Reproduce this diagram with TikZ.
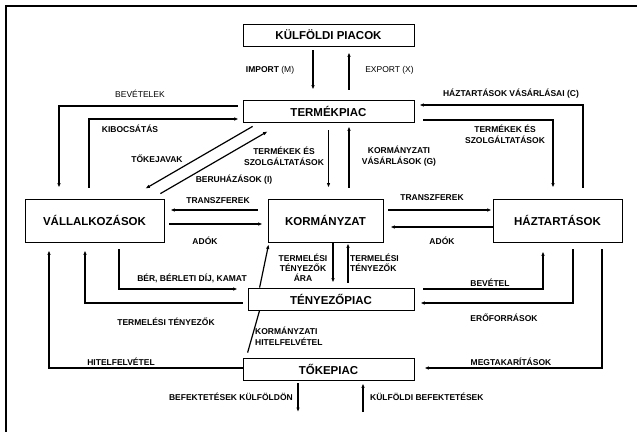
\documentclass[tikz,border=0pt]{standalone}
\usepackage{fontspec}
\setmainfont{Liberation Sans}
\usetikzlibrary{arrows.meta}

\begin{document}
\begin{tikzpicture}[x=1pt, y=-1pt,
        box/.style = {draw, line width=0.8pt, inner sep=0pt,
        font=\bfseries\fontsize{11.5}{13}\selectfont},
        lbl/.style = {align=center, inner sep=0pt,
        font=\bfseries\fontsize{8.5}{11}\selectfont},
        flow/.style = {line width=1.2pt, -{Latex[length=4.5pt,width=3.5pt]}}]
        \useasboundingbox (0,0) rectangle (637,431);
        \draw [line width=2.5pt] (6,440) |- (645,6);

        % markets and sectors
        \node [box, minimum width=171pt, minimum height=22pt] (kp) at (328.5,35) {KÜLFÖLDI PIACOK};
        \node [box, minimum width=171pt, minimum height=22pt] (tp) at (328.5,111) {TERMÉKPIAC};
        \node [box, minimum width=139pt, minimum height=43pt] (vall) at (94.5,220.5) {VÁLLALKOZÁSOK};
        \node [box, minimum width=115pt, minimum height=43pt] (korm) at (325.5,220.5) {KORMÁNYZAT};
        \node [box, minimum width=129pt, minimum height=43pt] (haz) at (557.5,220.5) {HÁZTARTÁSOK};
        \node [box, minimum width=166pt, minimum height=22pt] (tenyp) at (331,299) {TÉNYEZŐPIAC};
        \node [box, minimum width=171pt, minimum height=22pt] (tokep) at (328.5,369) {TŐKEPIAC};

        \coordinate (kifele) at (298,412);
        \coordinate (befele) at (363,412);

        % flows
        \draw [flow] ([xshift=-15.5pt,yshift=-4pt]kp.south) -- ([xshift=-15.5pt,yshift=10pt]tp.north);
        \draw [flow] ([xshift=20.5pt,yshift=10pt]tp.north) -- ([xshift=20.5pt,yshift=-6pt]kp.south);
        \draw [flow] ([xshift=-5pt,yshift=5pt]tp.west) -| ([xshift=-35.5pt,yshift=11pt]vall.north);
        \draw [flow] ([xshift=-5.5pt,yshift=11pt]vall.north) |- ([xshift=-4pt,yshift=-8pt]tp.west);
        \draw [flow] ([xshift=10pt,yshift=-4pt]tp.south west) -- ([xshift=-19pt,yshift=10pt]vall.north east);
        \draw [flow] ([xshift=-4pt,yshift=5pt]vall.north east) -- ([xshift=25pt,yshift=-9pt]tp.south west);
        \draw [flow] ([yshift=-8pt]tp.south) -- ([xshift=3pt,yshift=11pt]korm.north);
        \draw [flow] ([xshift=23.5pt,yshift=11pt]korm.north) -- ([xshift=20.5pt,yshift=-4pt]tp.south);
        \draw [flow] ([xshift=25.5pt,yshift=11pt]haz.north) |- ([xshift=5pt,yshift=6pt]tp.east);
        \draw [flow] ([xshift=9pt,yshift=-9pt]tp.east) -| ([xshift=-4.5pt,yshift=11pt]haz.north);
        \draw [flow] ([xshift=-10pt,yshift=10.5pt]korm.west) -- ([xshift=6pt,yshift=10.5pt]vall.east);
        \draw [flow] ([xshift=5pt,yshift=-3.5pt]vall.east) -- ([xshift=-5pt,yshift=-3.5pt]korm.west);
        \draw [flow] ([xshift=5pt,yshift=10.5pt]korm.east) -- ([xshift=-1pt,yshift=10.5pt]haz.west);
        \draw [flow] ([yshift=-6.5pt]haz.west) -- ([xshift=7pt,yshift=-6.5pt]korm.east);
        \draw [flow] ([xshift=7.5pt,yshift=-1pt]korm.south) -- ([xshift=2pt,yshift=5pt]tenyp.north);
        \draw [flow] ([xshift=17pt,yshift=5pt]tenyp.north) -- ([xshift=22.5pt,yshift=-1pt]korm.south);
        \draw [flow] ([xshift=12pt]tenyp.north west) -- ([xshift=1pt,yshift=-2pt]korm.south west);
        \draw [line width=1.2pt] ([xshift=5pt,yshift=5pt]tokep.north west) -- ([xshift=12pt]tenyp.south west);
        \draw [flow] ([xshift=24.5pt,yshift=-7pt]vall.south) |- ([xshift=-10pt,yshift=10pt]tenyp.west);
        \draw [flow] ([xshift=-5pt,yshift=-4pt]tenyp.west) -| ([xshift=-9.5pt,yshift=-8pt]vall.south);
        \draw [flow] ([yshift=1pt]tokep.west) -| ([xshift=-45.5pt,yshift=-8pt]vall.south);
        \draw [flow] ([xshift=-30.5pt,yshift=-3pt]tokep.south) -- (kifele);
        \draw [flow] (befele) -- ([xshift=34.5pt,yshift=-3pt]tokep.south);
        \draw [flow] ([xshift=9pt,yshift=10pt]tenyp.east) -| ([xshift=-14.5pt,yshift=-9pt]haz.south);
        \draw [flow] ([xshift=15.5pt,yshift=-7pt]haz.south) |- ([xshift=6pt,yshift=-4pt]tenyp.east);
        \draw [flow] ([xshift=44.5pt,yshift=-7pt]haz.south) |- ([xshift=10pt,yshift=1pt]tokep.east);

        % labels
        \node [lbl] (l_imp) at (270,70) {IMPORT \mdseries(M)};
        \node [lbl, font=\mdseries\fontsize{8.5}{11}\selectfont] (l_exp) at (389.5,70) {EXPORT (X)};
        \node [lbl, font=\mdseries\fontsize{8.5}{11}\selectfont] (l_bev) at (140,94) {BEVÉTELEK};
        \node [lbl] (l_kib) at (130,129) {KIBOCSÁTÁS};
        \node [lbl] (l_tok) at (157,159) {TŐKEJAVAK};
        \node [lbl] (l_ber) at (234,180) {BERUHÁZÁSOK (I)};
        \node [lbl] (l_tsz1) at (284,156) {TERMÉKEK ÉS\\SZOLGÁLTATÁSOK};
        \node [lbl] (l_kv) at (399,156) {KORMÁNYZATI\\VÁSÁRLÁSOK (G)};
        \node [lbl] (l_hv) at (511,94) {HÁZTARTÁSOK VÁSÁRLÁSAI (C)};
        \node [lbl] (l_tsz2) at (505,134) {TERMÉKEK ÉS\\SZOLGÁLTATÁSOK};
        \node [lbl] (l_tr1) at (218,201) {TRANSZFEREK};
        \node [lbl] (l_ad1) at (205,241) {ADÓK};
        \node [lbl] (l_tr2) at (432,198) {TRANSZFEREK};
        \node [lbl] (l_ad2) at (442,241) {ADÓK};
        \node [lbl, font=\bfseries\fontsize{8.5}{10}\selectfont] (l_tta) at (303,268) {TERMELÉSI\\TÉNYEZŐK\\ÁRA};
        \node [lbl, align=left, anchor=west, font=\bfseries\fontsize{8.5}{10}\selectfont] (l_tt) at (350,263) {TERMELÉSI\\TÉNYEZŐK};
        \node [lbl, align=left, anchor=west] (l_kh) at (255,336) {KORMÁNYZATI\\HITELFELVÉTEL};
        \node [lbl] (l_bbk) at (192,278) {BÉR, BÉRLETI DÍJ, KAMAT};
        \node [lbl] (l_tet) at (166,322) {TERMELÉSI TÉNYEZŐK};
        \node [lbl] (l_hit) at (121,362) {HITELFELVÉTEL};
        \node [lbl, anchor=east] (l_bk) at (293,397) {BEFEKTETÉSEK KÜLFÖLDÖN};
        \node [lbl, anchor=west] (l_kb) at (370,397) {KÜLFÖLDI BEFEKTETÉSEK};
        \node [lbl] (l_bvt) at (490,283) {BEVÉTEL};
        \node [lbl] (l_ero) at (504,318) {ERŐFORRÁSOK};
        \node [lbl] (l_meg) at (511,362) {MEGTAKARÍTÁSOK};
    \end{tikzpicture}
\end{document}
